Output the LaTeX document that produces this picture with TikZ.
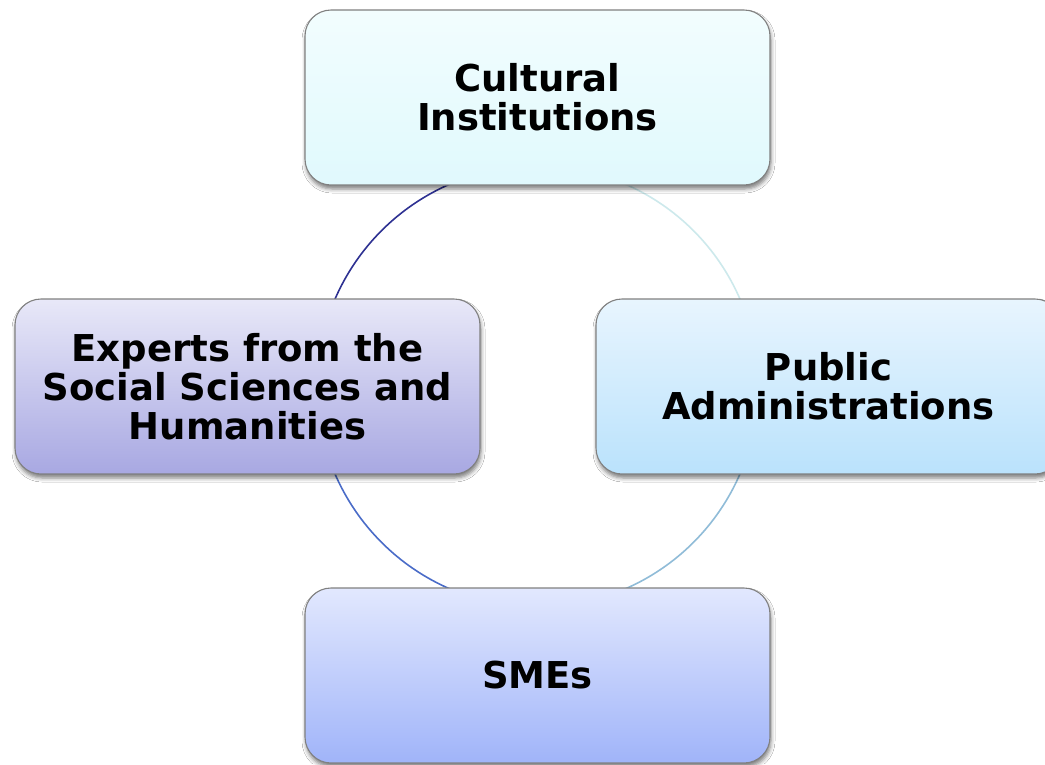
\documentclass[tikz,border=0pt]{standalone}
\usepackage{fontspec}
\setmainfont{DejaVu Sans}
\usetikzlibrary{shadows.blur}
\definecolor{boxborder}{RGB}{128,128,128}
\definecolor{ciTop}{RGB}{242,253,254}
\definecolor{ciBot}{RGB}{224,249,253}
\definecolor{sshTop}{RGB}{232,232,248}
\definecolor{sshBot}{RGB}{168,168,226}
\definecolor{paTop}{RGB}{232,245,254}
\definecolor{paBot}{RGB}{186,226,252}
\definecolor{smeTop}{RGB}{226,232,254}
\definecolor{smeBot}{RGB}{160,180,249}
\definecolor{arcTL}{RGB}{46,49,146}
\definecolor{arcBL}{RGB}{74,108,200}
\definecolor{arcBR}{RGB}{144,188,216}
\definecolor{arcTR}{RGB}{205,233,236}
\tikzset{
  box/.style={draw=boxborder, line width=1.1pt, rounded corners=26pt,
    minimum width=465pt, minimum height=175pt, inner sep=0pt, align=center,
    font=\fontsize{37}{39}\selectfont\bfseries,
    blur shadow={shadow xshift=1pt, shadow yshift=-4pt, shadow blur radius=4pt, shadow opacity=50}},
  ring/.style={line width=1.6pt}
}
\begin{document}
\begin{tikzpicture}[x=1pt,y=-1pt]
\useasboundingbox (0,0) rectangle (1045,764);
\fill[white] (0,0) rectangle (1045,764);
\coordinate (c) at (537.5,386.5);
\draw[ring, arcTL] (c) ++(-90:220.5) arc[start angle=-90, end angle=-180, radius=220.5];
\draw[ring, arcBL] (c) ++(-180:220.5) arc[start angle=-180, end angle=-270, radius=220.5];
\draw[ring, arcBR] (c) ++(-270:220.5) arc[start angle=-270, end angle=-360, radius=220.5];
\draw[ring, arcTR] (c) ++(0:220.5) arc[start angle=0, end angle=-90, radius=220.5];
\node[box, top color=ciTop, bottom color=ciBot] (ci) at (537.5,97.5) {Cultural\\Institutions};
\node[box, top color=sshTop, bottom color=sshBot] (ssh) at (247.5,386.5) {Experts from the\\Social Sciences and\\Humanities};
\node[box, top color=paTop, bottom color=paBot] (pa) at (828.5,386.5) {Public\\Administrations};
\node[box, top color=smeTop, bottom color=smeBot] (sme) at (537.5,675.5) {SMEs};
\end{tikzpicture}
\end{document}
